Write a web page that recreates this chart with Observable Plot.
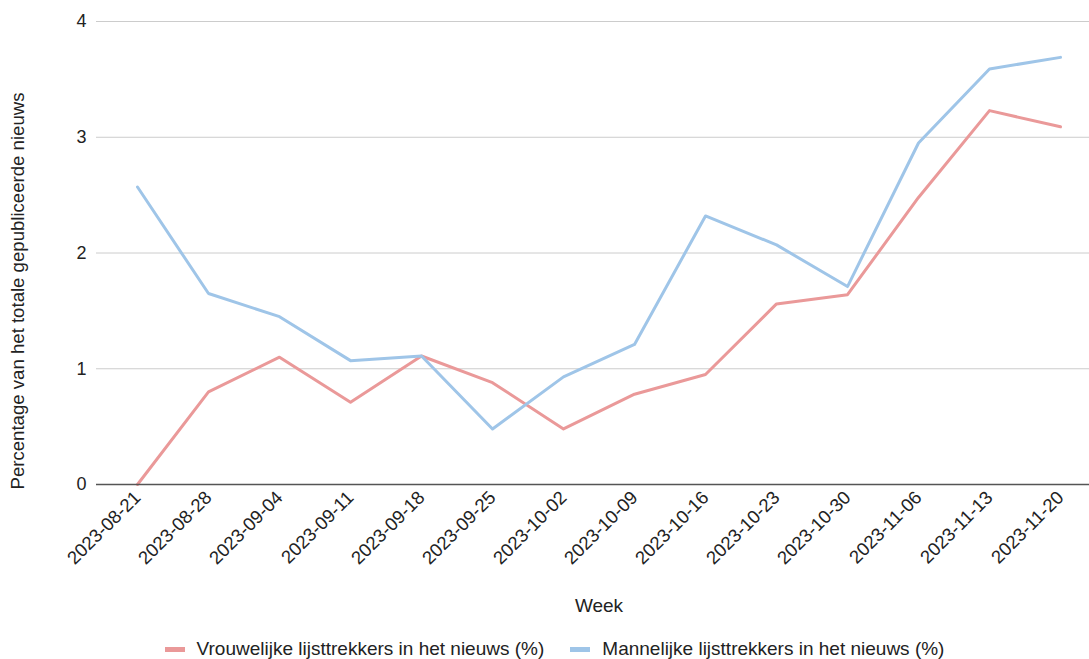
<!DOCTYPE html>
<html>
<head>
<meta charset="utf-8">
<script src="https://cdn.jsdelivr.net/npm/d3@7"></script>
<script src="https://cdn.jsdelivr.net/npm/@observablehq/plot@0.6"></script>
<style>
  html, body { margin: 0; padding: 0; background: #fff; }
  body { width: 1089px; height: 659px; overflow: hidden; font-family: "Liberation Sans", Arial, sans-serif; }
  #chart svg { display: block; }
  #legend { position: absolute; left: 0; top: 637px; width: 1089px; display: flex; justify-content: center; align-items: center; height: 24px; font-size: 19px; color: #222; padding-left: 20px; box-sizing: border-box; }
  .item { display: flex; align-items: center; margin: 0 13px; }
  .sw { width: 20px; height: 5px; margin-right: 12px; }
</style>
</head>
<body>
<div id="chart"></div>
<div id="legend"></div>
<script>
const weeks = ["2023-08-21","2023-08-28","2023-09-04","2023-09-11","2023-09-18","2023-09-25","2023-10-02","2023-10-09","2023-10-16","2023-10-23","2023-10-30","2023-11-06","2023-11-13","2023-11-20"];
const vrouwelijk = [0.00, 0.80, 1.10, 0.71, 1.11, 0.88, 0.48, 0.78, 0.95, 1.56, 1.64, 2.48, 3.23, 3.09];
const mannelijk = [2.57, 1.65, 1.45, 1.07, 1.11, 0.48, 0.93, 1.21, 2.32, 2.07, 1.71, 2.95, 3.59, 3.69];
const seriesNames = ["Vrouwelijke lijsttrekkers in het nieuws (%)", "Mannelijke lijsttrekkers in het nieuws (%)"];
const seriesColors = ["#ea9999", "#9fc5e8"];
const yTicks = [0, 1, 2, 3, 4];
const yTitle = "Percentage van het totale gepubliceerde nieuws";
const xTitle = "Week";

const data = [];
weeks.forEach((w, i) => {
  data.push({week: w, value: vrouwelijk[i], series: seriesNames[0]});
  data.push({week: w, value: mannelijk[i], series: seriesNames[1]});
});

const chart = Plot.plot({
  width: 1089,
  height: 637,
  marginLeft: 96,
  marginRight: 0,
  marginTop: 21,
  marginBottom: 153,
  style: {fontFamily: "'Liberation Sans', Arial, sans-serif", fontSize: "18px", color: "#222", background: "#fff"},
  x: {type: "point", domain: weeks, padding: 0, insetLeft: 37, insetRight: 25},
  y: {domain: [0, 4]},
  color: {domain: seriesNames, range: seriesColors},
  marks: [
    Plot.ruleY(yTicks.filter(d => d > 0), {stroke: "#cccccc", strokeWidth: 1}),
    Plot.axisY({ticks: yTicks, tickFormat: "d", tickSize: 0, tickPadding: 10, label: null, fontSize: 18}),
    Plot.axisX({tickSize: 0, tickRotate: -45, tickPadding: 10, label: null, fontSize: 18.5}),
    Plot.line(data, {x: "week", y: "value", z: "series", stroke: "series", strokeWidth: 3, curve: "linear"}),
    Plot.ruleY([0], {stroke: "#555555", strokeWidth: 1.5}),
    Plot.text([yTitle], {frameAnchor: "left", textAnchor: "middle", rotate: -90, dx: -78, dy: 38, fontSize: 18.6, fill: "#222"}),
    Plot.text([xTitle], {frameAnchor: "bottom", dy: 127, dx: 6, fontSize: 19, fill: "#222"})
  ]
});
document.getElementById("chart").appendChild(chart);

const legend = document.getElementById("legend");
seriesNames.forEach((name, i) => {
  const item = document.createElement("div");
  item.className = "item";
  const sw = document.createElement("span");
  sw.className = "sw";
  sw.style.background = seriesColors[i];
  const t = document.createElement("span");
  t.textContent = name;
  item.appendChild(sw);
  item.appendChild(t);
  legend.appendChild(item);
});
</script>
</body>
</html>
